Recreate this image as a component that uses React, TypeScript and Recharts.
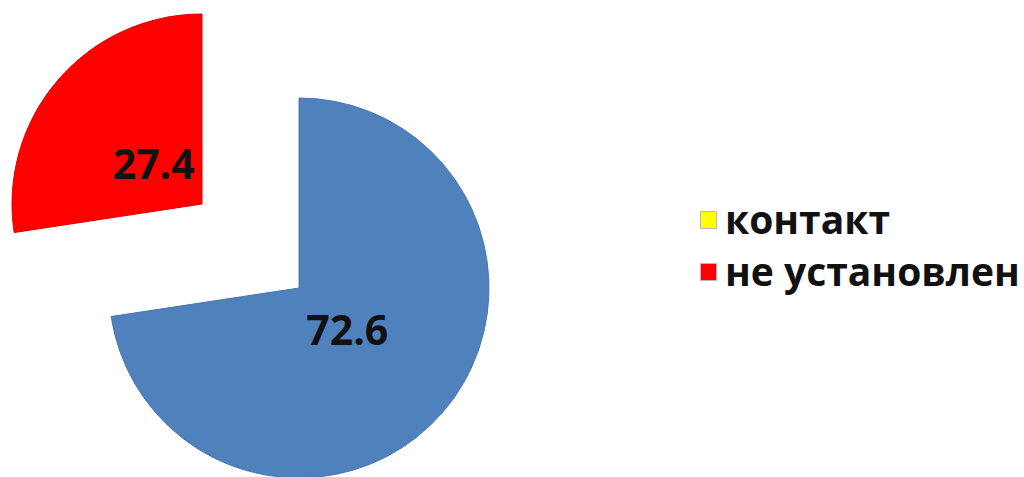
import React from 'react';
import { PieChart, Pie, Cell, Legend } from 'recharts';

// доли, %
const categories = ['контакт', 'не установлен'];
const values = [72.6, 27.4];
const sliceColors = ['#4F81BD', '#FF0000'];
// цвета в легенде (как в оригинале)
const legendColors = ['#FFFF00', '#FF0000'];

const data = categories.map((name, i) => ({ name, value: values[i] }));

const RADIAN = Math.PI / 180;

// подпись внутри сектора, только для видимого среза
const makeLabel = (visible: number) => (props: any) => {
  const { cx, cy, midAngle, outerRadius, index, value } = props;
  if (index !== visible) return null;
  const r = outerRadius * 0.335;
  const x = cx + r * Math.cos(-midAngle * RADIAN);
  const y = cy + r * Math.sin(-midAngle * RADIAN);
  return (
    <text
      x={x}
      y={y}
      textAnchor="middle"
      dominantBaseline="central"
      fill="#111"
      fontFamily="'Open Sans', sans-serif"
      fontWeight={700}
      fontSize={41}
    >
      {value.toFixed(1)}
    </text>
  );
};

const renderLegend = () => (
  <div style={{ fontFamily: "'Open Sans', sans-serif", fontWeight: 700, fontSize: 39, color: '#111', lineHeight: 1 }}>
    {categories.map((c, i) => (
      <div key={c} style={{ display: 'flex', alignItems: 'center', height: 52 }}>
        <span
          style={{
            display: 'inline-block',
            width: 15,
            height: 16,
            background: legendColors[i],
            border: '1px solid #bbb',
            marginRight: 8,
            marginTop: 4,
          }}
        />
        <span>{c}</span>
      </div>
    ))}
  </div>
);

export default function App() {
  return (
    <div style={{ position: 'absolute', left: 0, top: 0, width: 1024, height: 477, background: '#fff' }}>
      <PieChart width={1024} height={477} margin={{ top: 0, right: 0, bottom: 0, left: 0 }}>
        <Pie
          data={data}
          dataKey="value"
          cx={299}
          cy={288}
          outerRadius={190}
          startAngle={90}
          endAngle={-270}
          isAnimationActive={false}
          labelLine={false}
          label={makeLabel(0)}
        >
          {data.map((d, i) => (
            <Cell
              key={`a-${i}`}
              fill={i === 0 ? sliceColors[0] : 'transparent'}
              stroke={i === 0 ? '#4A76AD' : 'none'}
              strokeWidth={1}
            />
          ))}
        </Pie>
        {/* выдвинутый сектор */}
        <Pie
          data={data}
          dataKey="value"
          cx={202}
          cy={204}
          outerRadius={190}
          startAngle={90}
          endAngle={-270}
          isAnimationActive={false}
          labelLine={false}
          label={makeLabel(1)}
        >
          {data.map((d, i) => (
            <Cell
              key={`b-${i}`}
              fill={i === 1 ? sliceColors[1] : 'transparent'}
              stroke={i === 1 ? '#E00000' : 'none'}
              strokeWidth={1}
            />
          ))}
        </Pie>
        <Legend
          content={renderLegend}
          layout="vertical"
          wrapperStyle={{ position: 'absolute', left: 700, top: 192, width: 324 }}
        />
      </PieChart>
    </div>
  );
}
